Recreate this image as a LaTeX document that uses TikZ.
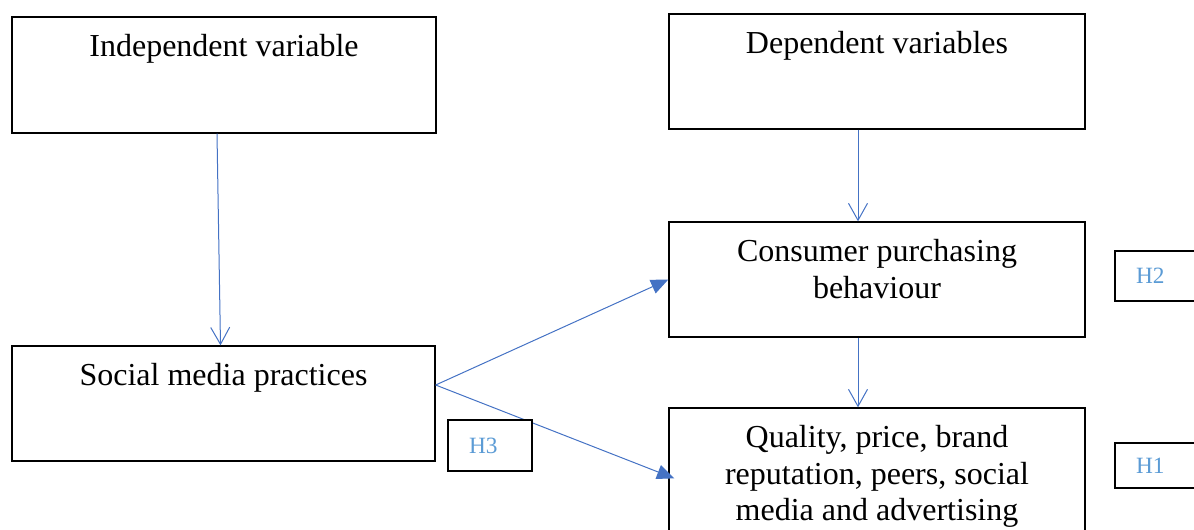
\documentclass[tikz,border=0pt]{standalone}
\usepackage{fontspec}
\setmainfont{Liberation Serif}
\usetikzlibrary{calc,arrows.meta}

\begin{document}
\begin{tikzpicture}[x=0.75pt, y=-0.75pt]


\def\lineWidth{1}
\def\arrowWidth{0.75}
\def\textgap{18}
\definecolor{arrowblue}{RGB}{68,114,196}
\definecolor{hblue}{RGB}{91,155,213}
\tikzset{
  box/.style={draw, line width=\lineWidth pt, inner sep=0pt},
  boxtext/.style={anchor=north, inner sep=0pt, align=center, font=\fontsize{24}{27.4}\selectfont},
  hbox/.style={draw, fill=white, line width=\lineWidth pt, inner xsep=15.75pt, inner ysep=0pt,
    text width=31.5pt, align=left, text=hblue, font=\fontsize{17.5}{20}\selectfont},
  vline/.style={draw=arrowblue, line width=\arrowWidth pt, -{Straight Barb[length=12.75pt, width=14.25pt]}},
  dline/.style={draw=arrowblue, line width=\arrowWidth pt, -{Triangle[length=13pt, width=11pt]}}
}

\useasboundingbox (0,0) rectangle (1194,529);
\clip (0,0) rectangle (1194,529);

\node[box, minimum width=424*0.75pt, minimum height=116*0.75pt] (indep) at (224,75) {};
\node[box, minimum width=423*0.75pt, minimum height=115*0.75pt] (social) at (223.5,403.5) {};
\node[box, minimum width=416*0.75pt, minimum height=115*0.75pt] (dep) at (877,71.5) {};
\node[box, minimum width=416*0.75pt, minimum height=115*0.75pt] (cpb) at (877,279.5) {};
\node[box, minimum width=416*0.75pt, minimum height=140*0.75pt] (qual) at (877,478) {};

\node[boxtext] (indep-text) at ($(indep.north) + (0,\textgap)$) {Independent variable};
\node[boxtext] (social-text) at ($(social.north) + (0,\textgap)$) {Social media practices};
\node[boxtext] (dep-text) at ($(dep.north) + (0,\textgap)$) {Dependent variables};
\node[boxtext] (cpb-text) at ($(cpb.north) + (0,\textgap)$) {Consumer purchasing\\behaviour};
\node[boxtext] (qual-text) at ($(qual.north) + (0,\textgap)$) {Quality, price, brand\\reputation, peers, social\\media and advertising};


%DRAW

\draw[vline] ($(indep.south) + (-7,0)$) -- ($(social.north) + (-3,0)$);
\draw[vline] ($(dep.south) + (-19,0)$) -- ($(cpb.north) + (-19,0)$);
\draw[vline] ($(cpb.south) + (-19,0)$) -- ($(qual.north) + (-19,0)$);

\coordinate (fork) at ($(social.east) + (0,-18.5)$);
\draw[dline] (fork) -- (cpb.west);
\draw[dline] (fork) -- ($(qual.north west) + (6,71)$);

\node[hbox, minimum height=51*0.75pt] (h3) at (490,445.5) {H3};
\node[hbox, minimum height=50*0.75pt] (h2) at (1157,276) {H2};
\node[hbox, minimum height=45*0.75pt] (h1) at (1157,465.5) {H1};


\end{tikzpicture}
\end{document}
